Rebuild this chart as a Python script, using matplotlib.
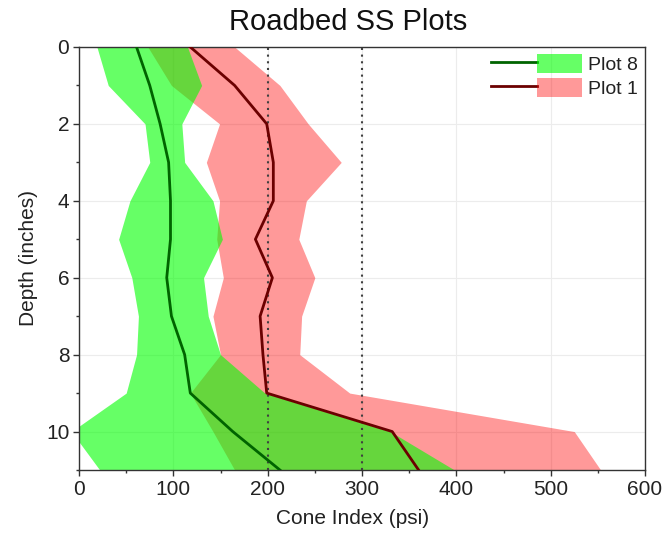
import matplotlib
matplotlib.use("Agg")
import matplotlib.pyplot as plt
from matplotlib.legend_handler import HandlerTuple
from matplotlib.lines import Line2D
from matplotlib.patches import Patch
from matplotlib.ticker import MultipleLocator

# Cone index profiles (psi) against depth (inches)
depth = [0, 1, 2, 3, 4, 5, 6, 7, 8, 9, 10, 11]

plot8_mean = [61, 75, 86, 95, 97, 97, 93, 98, 112, 118, 163, 213]
plot8_low = [19, 31, 70, 75, 54, 42, 56, 63, 61, 50, -8, 22]
plot8_high = [115, 130, 109, 112, 142, 152, 132, 137, 150, 197, 330, 398]

plot1_mean = [118, 165, 199, 206, 206, 187, 205, 192, 195, 199, 332, 360]
plot1_low = [73, 98, 149, 135, 149, 146, 153, 142, 150, 118, 142, 165]
plot1_high = [165, 213, 243, 278, 241, 233, 250, 236, 234, 287, 525, 553]

reference_lines = [200, 300]
series_labels = ["Plot 8", "Plot 1"]

plt.rcParams["font.family"] = ["Liberation Sans", "DejaVu Sans"]
text_color = "#222222"

fig = plt.figure(figsize=(6.67, 5.33), dpi=100)
ax = fig.add_axes([79 / 667, 1 - 470 / 533, (645 - 79) / 667, (470 - 47) / 533])

ax.set_axisbelow(True)
ax.grid(True, which="major", color="#ececec", lw=0.8)

red_band = ax.fill_betweenx(depth, plot1_low, plot1_high, color="red", alpha=0.4,
                            lw=0, zorder=1)
green_band = ax.fill_betweenx(depth, plot8_low, plot8_high, color="lime", alpha=0.6,
                              lw=0, zorder=2)

for xv in reference_lines:
    ax.axvline(xv, color="#404040", lw=1.5, linestyle=(0, (1, 2.2)), zorder=3)

red_line, = ax.plot(plot1_mean, depth, color="#6b0000", lw=2.0, zorder=4)
green_line, = ax.plot(plot8_mean, depth, color="#006400", lw=2.0, zorder=5)

ax.set_xlim(0, 600)
ax.set_ylim(11, 0)
ax.xaxis.set_major_locator(MultipleLocator(100))
ax.xaxis.set_minor_locator(MultipleLocator(50))
ax.yaxis.set_major_locator(MultipleLocator(2))
ax.yaxis.set_minor_locator(MultipleLocator(1))
ax.tick_params(which="major", direction="out", length=4, width=1, colors="#333333",
               labelsize=15, labelcolor=text_color, pad=3)
ax.tick_params(which="minor", direction="out", length=2.5, width=1, colors="#333333")
for sp in ax.spines.values():
    sp.set_color("#333333")
    sp.set_linewidth(1.0)

ax.set_xlabel("Cone Index (psi)", fontsize=15, color=text_color, labelpad=1)
ax.set_ylabel("Depth (inches)", fontsize=15, color=text_color, labelpad=6)
ax.xaxis.set_label_coords(0.483, -0.093)
fig.text(348 / 667, 1 - 22 / 533, "Roadbed SS Plots", fontsize=21, color="#111111",
         ha="center", va="center")

green_patch = Patch(facecolor="lime", alpha=0.6, lw=0)
red_patch = Patch(facecolor="red", alpha=0.4, lw=0)
g_line = Line2D([], [], color="#006400", lw=2.0)
r_line = Line2D([], [], color="#6b0000", lw=2.0)
ax.legend([(g_line, green_patch), (r_line, red_patch)], series_labels,
          handler_map={tuple: HandlerTuple(ndivide=None, pad=0)},
          loc="upper right", bbox_to_anchor=(1.0, 1.0), frameon=False,
          fontsize=14, handlelength=4.7, handleheight=1.13, handletextpad=0.3,
          labelspacing=0.2, borderaxespad=0.25, borderpad=0.1,
          labelcolor=text_color)

fig.savefig("out.png", dpi=100)
